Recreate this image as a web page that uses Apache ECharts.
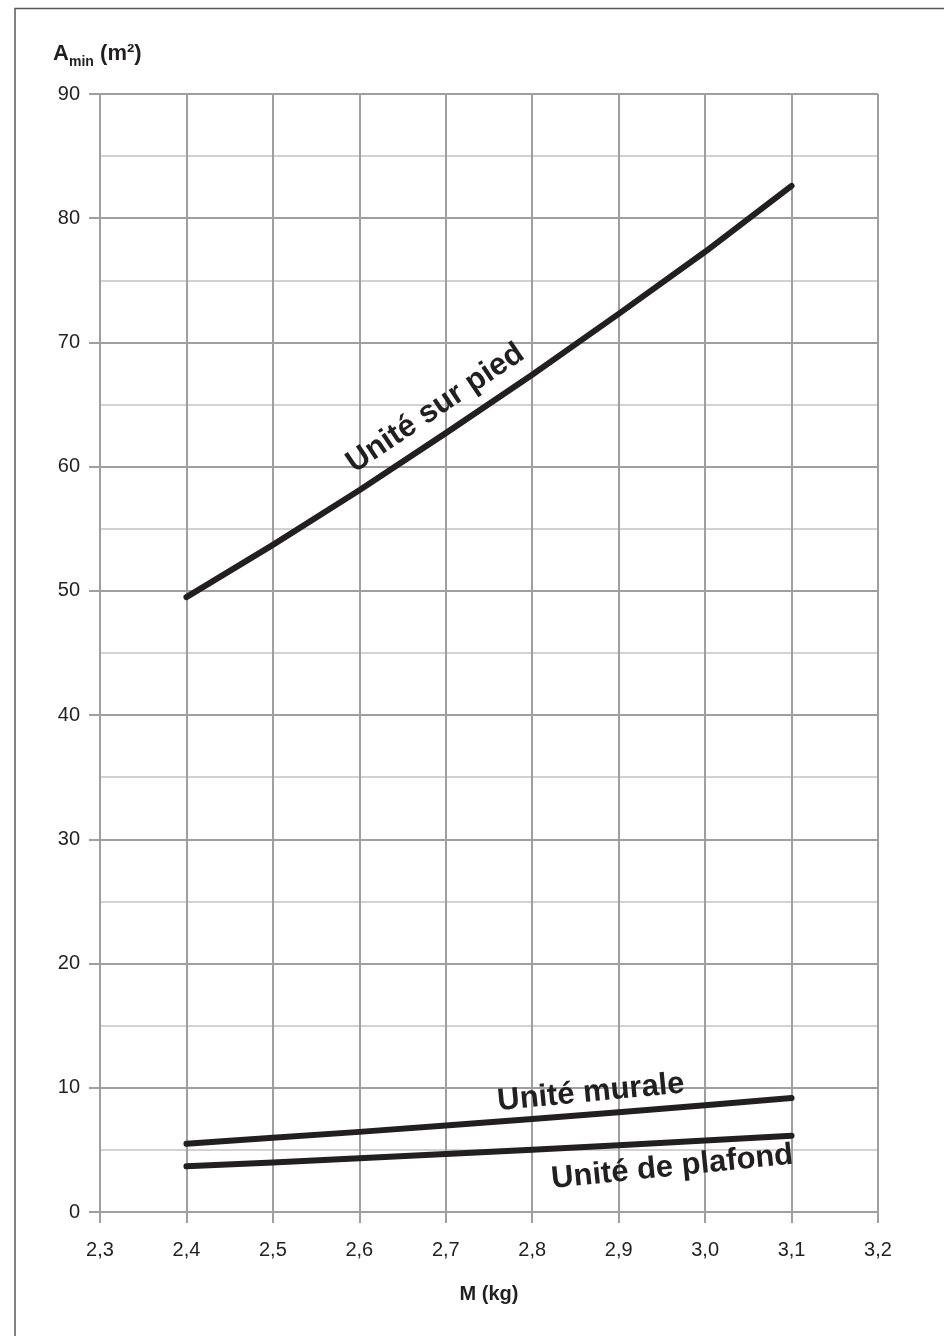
<!DOCTYPE html>
<html>
<head>
<meta charset="utf-8">
<script src="https://cdn.jsdelivr.net/npm/echarts@6/dist/echarts.min.js"></script>
<style>
html,body{margin:0;padding:0;background:#fff;}
#c{width:944px;height:1336px;}
</style>
</head>
<body>
<div id="c"></div>
<script>
// Data
var masses = [2.4, 2.5, 2.6, 2.7, 2.8, 2.9, 3.0, 3.1];
var surPied = [49.5, 53.7, 58.1, 62.7, 67.4, 72.3, 77.3, 82.6];
var murale = [5.5, 5.97, 6.45, 6.96, 7.49, 8.03, 8.59, 9.18];
var plafond = [3.68, 3.99, 4.32, 4.66, 5.01, 5.37, 5.75, 6.14];
var seriesNames = ['Unité sur pied', 'Unité murale', 'Unité de plafond'];
// label anchor points (data coords) and rotation in degrees
var labelAnchors = [[2.688, 64.7, 34], [2.868, 9.6, 5.5], [2.962, 3.6, 5.8]];
var xTicks = {min: 2.3, max: 3.2, interval: 0.1};
var yTicks = {min: 0, max: 90, interval: 10};

var INK = '#231f20';
var GRID = '#9d9fa2';
var MINOR = '#c3c4c6';
var FONT = '"Liberation Sans", Arial, Helvetica, sans-serif';

function pairs(ys){ return masses.map(function(m,i){ return [m, ys[i]]; }); }

var chart = echarts.init(document.getElementById('c'), null, {renderer:'canvas'});
var lineStyle = {color: INK, width: 6, cap: 'round', join: 'round'};
function mkSeries(name, ys){
  return {name: name, type: 'line', data: pairs(ys), showSymbol: false, symbol: 'none',
    lineStyle: lineStyle, smooth: false, silent: true, animation: false, z: 5};
}
chart.setOption({
  animation: false,
  backgroundColor: '#fff',
  grid: {left: 100, right: 66, top: 94, bottom: 124, containLabel: false},
  xAxis: {
    type: 'value', min: xTicks.min, max: xTicks.max, interval: xTicks.interval,
    axisLine: {show: true, lineStyle: {color: GRID, width: 2}},
    axisTick: {show: true, length: 11, lineStyle: {color: GRID, width: 2}},
    splitLine: {show: true, lineStyle: {color: GRID, width: 2}},
    axisLabel: {color: INK, fontFamily: FONT, fontSize: 20, margin: 28,
      formatter: function(v){ return (Math.round(v*10)/10).toFixed(1).replace('.', ','); }},
    name: 'M (kg)', nameLocation: 'middle', nameGap: 72,
    nameTextStyle: {color: INK, fontFamily: FONT, fontSize: 20, fontWeight: 'bold'}
  },
  yAxis: {
    type: 'value', min: yTicks.min, max: yTicks.max, interval: yTicks.interval,
    axisLine: {show: true, lineStyle: {color: GRID, width: 2}},
    axisTick: {show: true, length: 11, lineStyle: {color: GRID, width: 2}},
    splitLine: {show: true, lineStyle: {color: GRID, width: 2}},
    minorTick: {show: false, splitNumber: 2},
    minorSplitLine: {show: true, lineStyle: {color: MINOR, width: 1.5}},
    axisLabel: {color: INK, fontFamily: FONT, fontSize: 20, margin: 20}
  },
  series: [mkSeries(seriesNames[0], surPied), mkSeries(seriesNames[1], murale), mkSeries(seriesNames[2], plafond)]
});

var graphics = [
  {type: 'polyline', shape: {points: [[15, 1336], [15, 8.5], [944, 8.5]]}, style: {stroke: '#58595b', lineWidth: 1.5, fill: null}},
  {type: 'text', x: 53, y: 65, style: {text: 'A', fontFamily: FONT, fontSize: 22, fontWeight: 'bold', fill: INK, verticalAlign: 'bottom'}},
  {type: 'text', x: 69, y: 69, style: {text: 'min', fontFamily: FONT, fontSize: 14, fontWeight: 'bold', fill: INK, verticalAlign: 'bottom'}},
  {type: 'text', x: 94, y: 65, style: {text: ' (m²)', fontFamily: FONT, fontSize: 22, fontWeight: 'bold', fill: INK, verticalAlign: 'bottom'}}
];
labelAnchors.forEach(function(a, i){
  var p = chart.convertToPixel({gridIndex: 0}, [a[0], a[1]]);
  graphics.push({type: 'text', x: p[0], y: p[1], rotation: a[2]*Math.PI/180, z: 10,
    style: {text: seriesNames[i], fontFamily: FONT, fontSize: 31, fontWeight: 'bold', fill: INK,
      textAlign: 'center', textVerticalAlign: 'middle'}});
});
chart.setOption({graphic: graphics});
</script>
</body>
</html>
